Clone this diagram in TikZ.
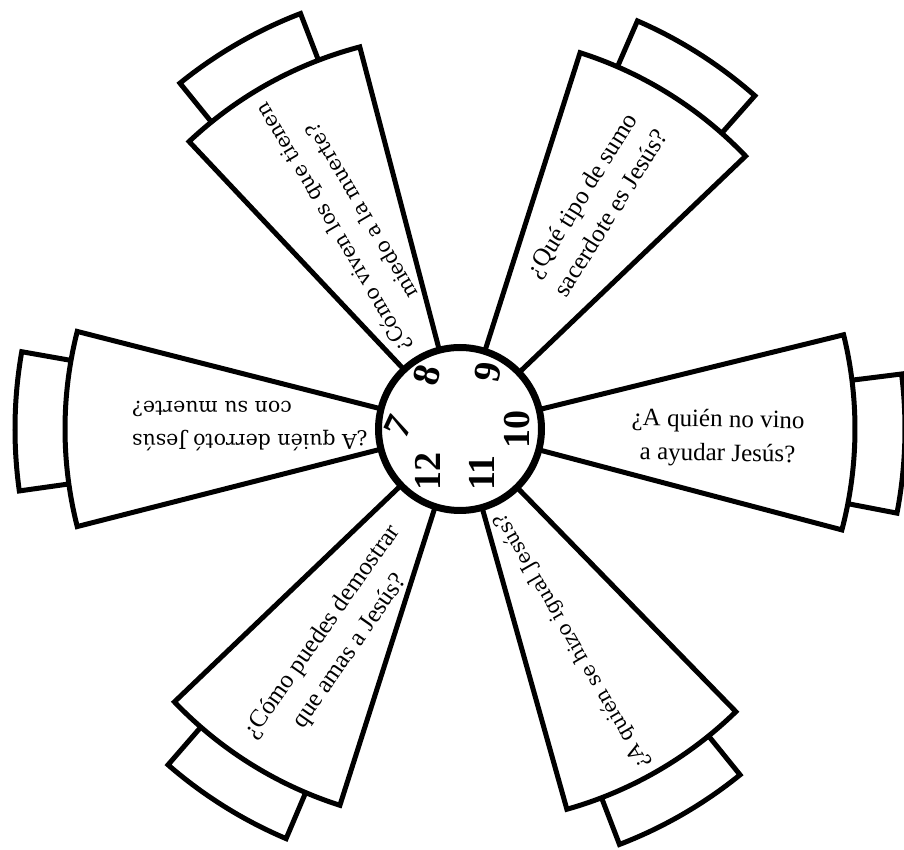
\documentclass[tikz,border=0pt]{standalone}
\usepackage{fontspec}
\setmainfont{Liberation Serif}
\newfontfamily\cambfont{DejaVu Serif}
\begin{document}
\begin{tikzpicture}[x=1pt,y=1pt,
  piece/.style={draw=black, fill=white, line width=5pt, line join=miter},
  hub/.style={draw=black, fill=white, line width=7pt},
  txtA/.style={font=\fontsize{25}{34}\selectfont, align=center, inner sep=0pt},
  txtB/.style={font=\cambfont\fontsize{20.5}{33}\selectfont, align=center, inner sep=0pt},
  num/.style={font=\bfseries\fontsize{38}{38}\selectfont, inner sep=0pt}]
\useasboundingbox (-460,-421) rectangle (444,429);
\fill[white] (-460,-421) rectangle (444,429);
% tabs
\foreach \a in {-1.9,57.5,120,179,238,300} {
  \pgfmathsetmacro{\sa}{\a-9}
  \pgfmathsetmacro{\ea}{\a+9}
  \draw[piece] (\sa:380) -- (\sa:445) arc[start angle=\sa, end angle=\ea, radius=445] -- (\ea:380) -- cycle;
}
% petals
\foreach \a in {-0.5,58,119,180,238,300} {
  \pgfmathsetmacro{\sa}{\a-14.3}
  \pgfmathsetmacro{\ea}{\a+14.3}
  \draw[piece] (0,0) -- (\sa:395) arc[start angle=\sa, end angle=\ea, radius=395] -- cycle;
}
% hub
\draw[hub] (0,0) circle[radius=81.5];
% texts
\node[txtA, rotate=-1] (qright) at (-2:258) {¿A quién no vino\\a ayudar Jesús?};
\node[txtA, rotate=58] (qupright) at (58.9:263) {¿Qué tipo de sumo\\sacerdote es Jesús?};
\node[txtB, rotate=120.5] (qupleft) at (118.5:238) {¿Cómo viven los que tienen\\miedo a la muerte?};
\node[txtB, rotate=180, align=right] (qleft) at (-210,3) {¿A quién derrotó Jesús\\con su muerte?};
\node[txtA, rotate=55] (qlowleft) at (239.8:246) {¿Cómo puedes demostrar\\que amas a Jesús?};
\node[txtB, font=\cambfont\fontsize{20}{33}\selectfont, rotate=120] (qlowright) at (297.9:240) {¿A quién se hizo igual Jesús?};
% numbers
\node[num, rotate=65] (n7) at (-62,2) {7};
\node[num, rotate=75] (n8) at (-33,54) {8};
\node[num, rotate=80] (n9) at (28,57) {9};
\node[num, rotate=90] (n10) at (57,-1) {10};
\node[num, rotate=90] (n11) at (22,-44) {11};
\node[num, rotate=90] (n12) at (-32,-43) {12};
\end{tikzpicture}
\end{document}
